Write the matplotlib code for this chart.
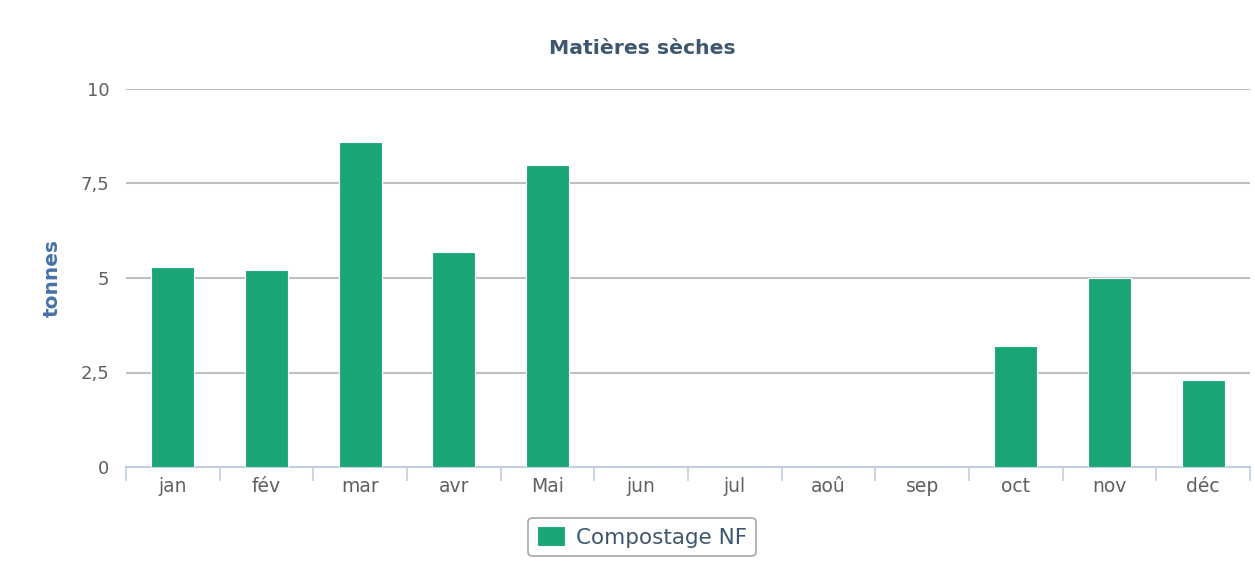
import numpy as np
import matplotlib
matplotlib.use("Agg")
from matplotlib import pyplot as plt

# Monthly dry matter (tonnes)
months = ["jan", "fév", "mar", "avr", "Mai", "jun", "jul", "aoû", "sep", "oct", "nov", "déc"]
compostage_nf = [5.3, 5.2, 8.6, 5.7, 8.0, 0, 0, 0, 0, 3.2, 5.0, 2.3]
y_ticks = [0, 2.5, 5, 7.5, 10]
y_tick_labels = ["0", "2,5", "5", "7,5", "10"]

plt.rcParams['font.family'] = ['DejaVu Sans']

fig = plt.figure(figsize=(12.55, 5.87), dpi=100)
ax = fig.add_axes([126 / 1255, 1 - 467 / 587, 1124 / 1255, 378 / 587])

x = np.arange(len(months))
bars = ax.bar(x, compostage_nf, width=0.46, color="#1aa677", edgecolor="#ffffff",
              linewidth=0.8, label="Compostage NF", zorder=3)

ax.set_xlim(-0.5, len(months) - 0.5)
ax.set_ylim(0, 10)

# gridlines
ax.set_yticks(y_ticks)
ax.set_yticklabels(y_tick_labels)
ax.yaxis.grid(True, color="#c0c0c0", linewidth=1.5, zorder=0)
ax.tick_params(axis="y", length=0, pad=12, labelsize=13, labelcolor="#606060")

# x axis: labels at centers, ticks at boundaries
ax.set_xticks(x)
ax.set_xticklabels(months)
ax.tick_params(axis="x", length=0, pad=7, labelsize=13.5, labelcolor="#606060")
ax.set_xticks(np.arange(len(months) + 1) - 0.5, minor=True)
ax.tick_params(axis="x", which="minor", length=10, width=1.2, color="#c0d0e0")

for s in ["top", "right", "left"]:
    ax.spines[s].set_visible(False)
ax.spines["bottom"].set_color("#c0d0e0")
ax.spines["bottom"].set_linewidth(1.5)

ax.set_ylabel("tonnes", fontsize=14.5, fontweight="bold", color="#4572a7")
ax.yaxis.set_label_coords(-64 / 1124, 0.5)

fig.text(642 / 1255, 1 - 48 / 587, "Matières sèches", ha="center", va="center",
         fontsize=14.7, fontweight="bold", color="#3e576f")

leg = fig.legend(handles=[bars], labels=["Compostage NF"], loc="center",
                 bbox_to_anchor=(642 / 1255, 1 - 537 / 587), fontsize=15.5,
                 frameon=True, fancybox=True, edgecolor="#909090",
                 handlelength=1.3, handleheight=1.0, borderpad=0.4, handletextpad=0.5)
for t in leg.get_texts():
    t.set_color("#3e576f")
leg.get_frame().set_linewidth(1.2)

plt.savefig("out.png", dpi=100)
